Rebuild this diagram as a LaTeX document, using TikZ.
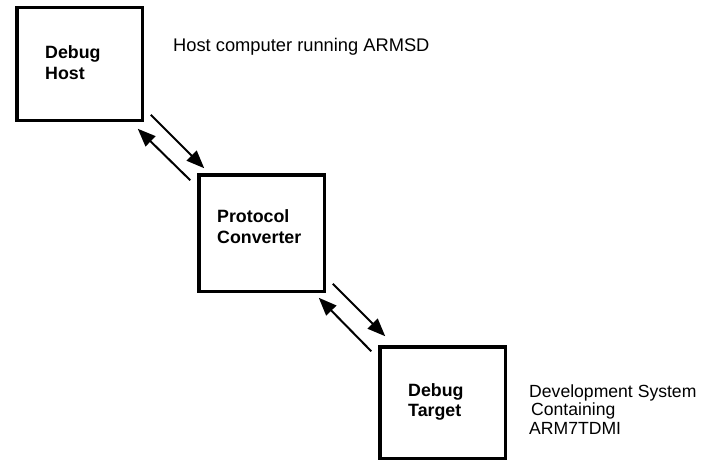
\documentclass[tikz,border=0pt]{standalone}
\usepackage{fontspec}
\setmainfont{Liberation Sans}
\usetikzlibrary{arrows.meta}
\tikzset{
  unit/.style={draw=black,line width=3.5pt,minimum width=125.5pt,inner sep=0pt},
  unitlabel/.style={anchor=base west,align=left,inner sep=0pt,font=\fontsize{17.8}{20.5}\selectfont\bfseries},
  note/.style={anchor=base west,align=left,inner sep=0pt,font=\fontsize{17.6}{18.5}\selectfont},
  flow/.style={-{Triangle[length=18pt,width=14pt]},line width=2pt},
}

\begin{document}
\begin{tikzpicture}[x=1pt,y=-1pt]
			\useasboundingbox (0,0) rectangle (717,460);
			% the three boxes
			\node[unit,minimum height=112.5pt] (host) at (79.5,64) {};
			\node[unit,minimum height=116.5pt] (conv) at (261.5,233) {};
			\node[unit,minimum height=111.5pt] (target) at (442.5,402.5) {};
			% labels sit on the baseline of their last line
			\node[unitlabel] (hostlbl) at (45,79) {Debug\\Host};
			\node[unitlabel] (convlbl) at (217,243) {Protocol\\Converter};
			\node[unitlabel] (targetlbl) at (408,416.5) {Debug\\Target};
			% notes
			\node[note,font=\fontsize{18.3}{20}\selectfont] (hostnote) at (173,52) {Host computer running ARMSD};
			\node[note] (targetnote) at (529,434) {Development System\\\hspace*{2pt}Containing\\ARM7TDMI};
			% links
			\draw[flow] ([xshift=6.75pt,yshift=7.25pt]host.south east) -- ([xshift=7.25pt,yshift=4.75pt]conv.north west);
			\draw[flow] ([xshift=-6.75pt,yshift=-7.25pt]conv.north west) -- ([xshift=-6.25pt,yshift=-6.75pt]host.south east);
			\draw[flow] ([xshift=6.75pt,yshift=9.25pt]conv.south east) -- ([xshift=7.25pt,yshift=8.75pt]target.north west);
			\draw[flow] ([xshift=-6.75pt,yshift=-6.25pt]target.north west) -- ([xshift=-7.25pt,yshift=-4.75pt]conv.south east);
		\end{tikzpicture}
\end{document}
